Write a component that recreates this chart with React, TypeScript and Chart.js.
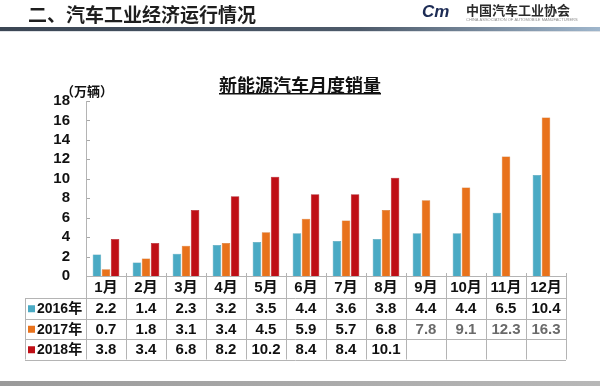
import React, { useEffect, useRef } from "react";
import Chart from "chart.js/auto";

const months = ["1月", "2月", "3月", "4月", "5月", "6月", "7月", "8月", "9月", "10月", "11月", "12月"];
const seriesNames = ["2016年", "2017年", "2018年"];
const sales2016 = [2.2, 1.4, 2.3, 3.2, 3.5, 4.4, 3.6, 3.8, 4.4, 4.4, 6.5, 10.4];
const sales2017 = [0.7, 1.8, 3.1, 3.4, 4.5, 5.9, 5.7, 6.8, 7.8, 9.1, 12.3, 16.3];
const sales2018 = [3.8, 3.4, 6.8, 8.2, 10.2, 8.4, 8.4, 10.1, null, null, null, null];
const seriesColors = ["#4aaac4", "#e8721c", "#bf0f16"];
const yMin = 0;
const yMax = 18;
const yStep = 2;

const headerText = "二、汽车工业经济运行情况";
const orgName = "中国汽车工业协会";
const orgSub = "CHINA ASSOCIATION OF AUTOMOBILE MANUFACTURERS";
const chartTitle = "新能源汽车月度销量";
const unitLabel = "（万辆）";

const CJK = '"Noto Sans CJK SC", sans-serif';
const NUM = '"Liberation Sans", Arial, "Noto Sans CJK SC", sans-serif';

const decorPlugin = {
  id: "decor",
  afterDraw(chart: any) {
    const ctx = chart.ctx as CanvasRenderingContext2D;
    const area = chart.chartArea;
    const xs = chart.scales.x;
    const ys = chart.scales.y;
    ctx.save();

    // header
    ctx.fillStyle = "#1e1e1e";
    ctx.font = `bold 19px ${CJK}`;
    ctx.textAlign = "left";
    ctx.textBaseline = "middle";
    ctx.fillText(headerText, 28, 15);

    const g = ctx.createLinearGradient(0, 0, 600, 0);
    g.addColorStop(0, "#3b4654");
    g.addColorStop(0.6, "#4d5a6a");
    g.addColorStop(1, "#9fb6cc");
    ctx.fillStyle = g;
    ctx.fillRect(0, 27, 600, 4);
    ctx.fillStyle = "rgba(160,170,180,0.35)";
    ctx.fillRect(0, 31, 600, 1);

    // logo
    ctx.fillStyle = "#1d2c55";
    ctx.font = `italic bold 17px ${NUM}`;
    ctx.textAlign = "left";
    ctx.fillText("Cm", 422, 12);
    ctx.fillStyle = "#2a2a2a";
    ctx.font = `bold 13px ${CJK}`;
    ctx.fillText(orgName, 466, 10);
    ctx.fillStyle = "#8a8a8a";
    ctx.font = `4px ${NUM}`;
    ctx.fillText(orgSub, 466, 19.5);

    // title
    ctx.fillStyle = "#111";
    ctx.font = `bold 18px ${CJK}`;
    ctx.textAlign = "center";
    ctx.fillText(chartTitle, 300, 85);
    const tw = ctx.measureText(chartTitle).width;
    ctx.fillRect(300 - tw / 2, 93, tw, 1.5);

    // unit label
    ctx.font = `bold 13px ${CJK}`;
    ctx.textAlign = "center";
    ctx.fillText(unitLabel, 87, 91);

    // inside ticks on y axis
    ctx.strokeStyle = "#a8a8a8";
    ctx.lineWidth = 1;
    for (let v = yMin; v <= yMax; v += yStep) {
      const py = Math.round(ys.getPixelForValue(v)) + 0.5;
      ctx.beginPath();
      ctx.moveTo(area.left, py);
      ctx.lineTo(area.left + 4, py);
      ctx.stroke();
    }

    // table
    const n = months.length;
    const colW = (area.right - area.left) / n;
    const top = area.bottom;
    const headH = 22;
    const rowH = 20.5;
    const tableLeft = 25;
    const bottom = top + headH + rowH * seriesNames.length;
    ctx.strokeStyle = "#b4b4b4";
    ctx.lineWidth = 1;
    const hline = (x1: number, x2: number, y: number) => {
      const py = Math.round(y) + 0.5;
      ctx.beginPath();
      ctx.moveTo(x1, py);
      ctx.lineTo(x2, py);
      ctx.stroke();
    };
    hline(area.left, area.right, top);
    for (let r = 0; r <= seriesNames.length; r++) {
      hline(tableLeft, area.right, top + headH + rowH * r);
    }
    const vline = (x: number, y1: number, y2: number) => {
      const px = Math.round(x) + 0.5;
      ctx.beginPath();
      ctx.moveTo(px, y1);
      ctx.lineTo(px, y2);
      ctx.stroke();
    };
    vline(tableLeft, top + headH, bottom);
    for (let i = 0; i <= n; i++) {
      const x = area.left + colW * i;
      vline(x, i === 0 ? area.top : top - 3, bottom);
    }

    // month labels
    ctx.fillStyle = "#111";
    ctx.font = `bold 15px ${NUM}`;
    ctx.textAlign = "center";
    ctx.textBaseline = "middle";
    for (let i = 0; i < n; i++) {
      ctx.fillText(months[i], xs.getPixelForValue(i), top + headH / 2 + 1);
    }

    // rows
    const allSeries = [sales2016, sales2017, sales2018];
    for (let r = 0; r < allSeries.length; r++) {
      const cy = top + headH + rowH * r + rowH / 2 + 1;
      ctx.fillStyle = seriesColors[r];
      ctx.fillRect(28, cy - 4, 7, 7);
      ctx.fillStyle = "#111";
      ctx.font = `bold 14px ${NUM}`;
      ctx.textAlign = "left";
      ctx.fillText(seriesNames[r], 37, cy);
      ctx.textAlign = "center";
      ctx.font = `bold 15px ${NUM}`;
      const vals = allSeries[r];
      for (let i = 0; i < n; i++) {
        const v = vals[i];
        if (v === null || v === undefined) continue;
        ctx.fillStyle = r === 1 && i >= 8 ? "#6a6a6a" : "#111";
        ctx.fillText(v.toFixed(1), xs.getPixelForValue(i), cy);
      }
    }

    // bottom band
    const bg = ctx.createLinearGradient(0, 0, 600, 0);
    bg.addColorStop(0, "#9a9a9a");
    bg.addColorStop(1, "#b8b8b8");
    ctx.fillStyle = bg;
    ctx.fillRect(0, 381, 600, 5);

    ctx.restore();
  },
};

export default function App() {
  const ref = useRef<HTMLCanvasElement | null>(null);
  useEffect(() => {
    document.body.style.margin = "0";
    const canvas = ref.current;
    if (!canvas) return;
    const chart = new Chart(canvas, {
      type: "bar",
      data: {
        labels: months,
        datasets: [
          { label: seriesNames[0], data: sales2016, backgroundColor: seriesColors[0], borderColor: "#3b8fa6", borderWidth: 0.5 },
          { label: seriesNames[1], data: sales2017, backgroundColor: seriesColors[1], borderColor: "#c65f12", borderWidth: 0.5 },
          { label: seriesNames[2], data: sales2018 as any, backgroundColor: seriesColors[2], borderColor: "#9c0a10", borderWidth: 0.5 },
        ],
      },
      options: {
        responsive: false,
        animation: false,
        devicePixelRatio: 1,
        layout: { padding: { left: 0, right: 34, top: 101, bottom: 110 } },
        datasets: { bar: { categoryPercentage: 0.68, barPercentage: 0.94 } },
        plugins: { legend: { display: false }, tooltip: { enabled: false }, title: { display: false } },
        scales: {
          x: { display: false },
          y: {
            min: yMin,
            max: yMax,
            ticks: {
              stepSize: yStep,
              autoSkip: false,
              padding: 16,
              color: "#111",
              font: { family: '"Liberation Sans", Arial, sans-serif', size: 15, weight: "bold" },
            },
            grid: { display: false, drawTicks: false },
            border: { display: true, color: "#a8a8a8", width: 1 },
            afterFit: (s: any) => {
              s.width = 86;
            },
          },
        },
      },
      plugins: [decorPlugin],
    });
    return () => chart.destroy();
  }, []);
  return <canvas ref={ref} width={600} height={386} style={{ display: "block" }} />;
}
